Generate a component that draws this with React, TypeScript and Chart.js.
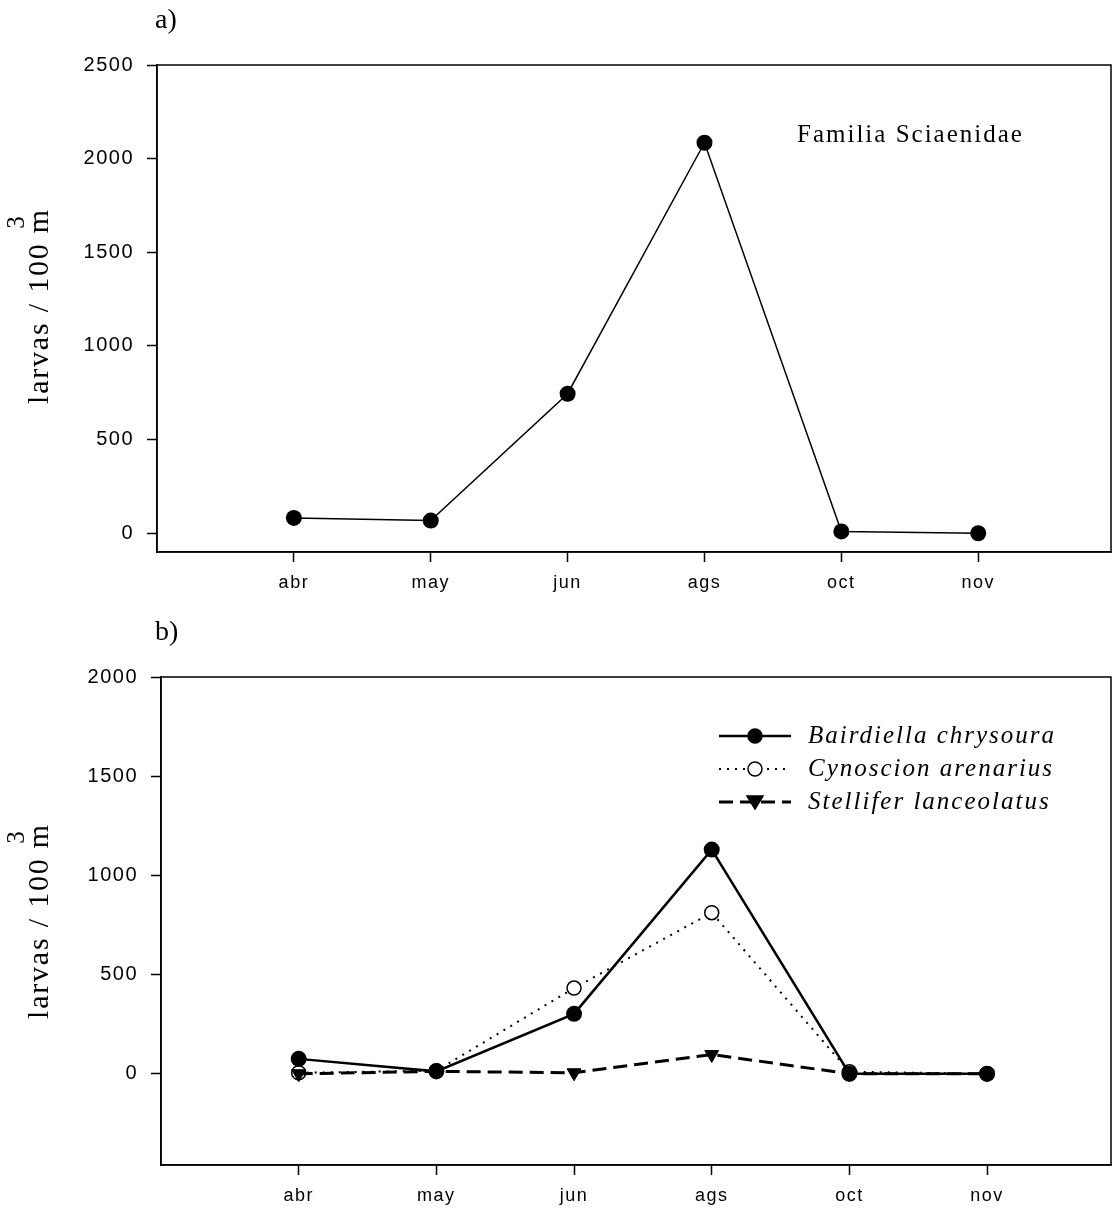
import React, { useEffect, useRef } from 'react';
import { Chart, registerables } from 'chart.js';
Chart.register(...registerables);

const months = ['abr', 'may', 'jun', 'ags', 'oct', 'nov'];
const sciaenidae = [82, 68, 745, 2085, 10, 0];
const bairdiella = [75, 12, 302, 1130, 0, 0];
const cynoscion = [5, 15, 432, 812, 10, 0];
const stellifer = [0, 12, 5, 97, 0, 0];
const ticksA = [0, 500, 1000, 1500, 2000, 2500];
const ticksB = [0, 500, 1000, 1500, 2000];
const legendNames = ['Bairdiella chrysoura', 'Cynoscion arenarius', 'Stellifer lanceolatus'];

const W = 1113;
const HA = 600;
const HB = 609;

const SANS = '"Liberation Sans", Arial, sans-serif';
const SERIF = '"Liberation Serif", "Times New Roman", serif';

function pts(arr: number[]) {
  return arr.map((v, i) => ({ x: i, y: v }));
}

function drawYLabel(ctx: CanvasRenderingContext2D, cx: number, cy: number) {
  ctx.save();
  ctx.translate(cx, cy);
  ctx.rotate(-Math.PI / 2);
  ctx.fillStyle = '#000';
  ctx.font = `30px ${SERIF}`;
  (ctx as any).letterSpacing = '1.8px';
  const main = 'larvas / 100 m';
  const w = ctx.measureText(main).width;
  const mw = ctx.measureText('m').width;
  ctx.textBaseline = 'middle';
  ctx.textAlign = 'left';
  ctx.fillText(main, -w / 2, 0);
  ctx.font = `25px ${SERIF}`;
  ctx.textAlign = 'center';
  ctx.fillText('3', w / 2 - mw / 2 - 1, -23);
  ctx.restore();
}

function makeScales(xMax: number, yMin: number, yMax: number, yTicks: number[], yW: number, xH: number) {
  const gridCommon = {
    display: true,
    drawOnChartArea: false,
    drawTicks: true,
    tickLength: 10,
    tickColor: '#000',
    tickWidth: 1.5,
  };
  return {
    x: {
      type: 'linear' as const,
      min: -1,
      max: xMax,
      afterBuildTicks: (s: any) => {
        s.ticks = months.map((_, i) => ({ value: i }));
      },
      afterFit: (s: any) => {
        s.height = xH;
        s.paddingLeft = 0;
        s.paddingRight = 0;
      },
      grid: gridCommon,
      border: { display: true, color: '#000', width: 1.5 },
      ticks: {
        color: '#000',
        font: { family: SANS, size: 18 },
        padding: 10,
        maxRotation: 0,
        autoSkip: false,
        callback: (v: any) => months[v] ?? '',
      },
    },
    y: {
      type: 'linear' as const,
      min: yMin,
      max: yMax,
      afterBuildTicks: (s: any) => {
        s.ticks = yTicks.map((v) => ({ value: v }));
      },
      afterFit: (s: any) => {
        s.width = yW;
        s.paddingTop = 0;
        s.paddingBottom = 0;
      },
      grid: gridCommon,
      border: { display: true, color: '#000', width: 1.5 },
      ticks: {
        color: '#000',
        font: { family: SANS, size: 20 },
        padding: 13,
        autoSkip: false,
        callback: (v: any) => String(v),
      },
    },
  };
}

const boxPlugin = {
  id: 'boxFrame',
  beforeDatasetsDraw(chart: any) {
    const { ctx, chartArea: a } = chart;
    ctx.save();
    ctx.strokeStyle = '#000';
    ctx.lineWidth = 1.5;
    ctx.strokeRect(a.left, a.top, a.right - a.left, a.bottom - a.top);
    ctx.restore();
  },
};

const spacingPlugin = {
  id: 'spacing',
  beforeDraw(chart: any) {
    (chart.ctx as any).letterSpacing = '1.5px';
  },
};

export default function App() {
  const refA = useRef<HTMLCanvasElement>(null);
  const refB = useRef<HTMLCanvasElement>(null);

  useEffect(() => {
    const annotA = {
      id: 'annotA',
      afterDraw(chart: any) {
        const ctx = chart.ctx as CanvasRenderingContext2D;
        ctx.save();
        (ctx as any).letterSpacing = '0px';
        ctx.fillStyle = '#000';
        ctx.font = `28px ${SERIF}`;
        ctx.textBaseline = 'middle';
        ctx.textAlign = 'left';
        ctx.fillText('a)', 155, 21);
        ctx.font = `25px ${SERIF}`;
        (ctx as any).letterSpacing = '2px';
        ctx.fillText('Familia Sciaenidae', 797, 135);
        ctx.restore();
        drawYLabel(ctx, 40, 306);
      },
    };
    const annotB = {
      id: 'annotB',
      afterDraw(chart: any) {
        const ctx = chart.ctx as CanvasRenderingContext2D;
        ctx.save();
        (ctx as any).letterSpacing = '0px';
        ctx.fillStyle = '#000';
        ctx.font = `28px ${SERIF}`;
        ctx.textBaseline = 'middle';
        ctx.textAlign = 'left';
        ctx.fillText('b)', 155, 33);
        // legend
        const rows = [136, 169, 202];
        const styles = [
          { dash: [] as number[], lw: 2.5, type: 'circle', fill: '#000' },
          { dash: [2, 6], lw: 2, type: 'circle', fill: '#fff' },
          { dash: [14, 7], lw: 3, type: 'triangle', fill: '#000' },
        ];
        rows.forEach((y, i) => {
          const st = styles[i];
          ctx.save();
          ctx.strokeStyle = '#000';
          ctx.lineWidth = st.lw;
          ctx.setLineDash(st.dash);
          ctx.beginPath();
          ctx.moveTo(719, y);
          ctx.lineTo(791, y);
          ctx.stroke();
          ctx.setLineDash([]);
          ctx.lineWidth = 1.5;
          ctx.fillStyle = st.fill;
          ctx.beginPath();
          if (st.type === 'circle') {
            ctx.arc(755, y, 7, 0, Math.PI * 2);
          } else {
            ctx.moveTo(747, y - 6);
            ctx.lineTo(763, y - 6);
            ctx.lineTo(755, y + 7);
            ctx.closePath();
          }
          ctx.fill();
          ctx.stroke();
          ctx.restore();
          ctx.fillStyle = '#000';
          ctx.font = `italic 25px ${SERIF}`;
          (ctx as any).letterSpacing = '2px';
          ctx.fillText(legendNames[i], 808, y);
        });
        ctx.restore();
        drawYLabel(ctx, 40, 321);
      },
    };

    const chartA = new Chart(refA.current!, {
      type: 'line',
      data: {
        datasets: [
          {
            label: 'Familia Sciaenidae',
            data: pts(sciaenidae),
            borderColor: '#000',
            borderWidth: 1.5,
            backgroundColor: '#000',
            pointBackgroundColor: '#000',
            pointBorderColor: '#000',
            pointRadius: 8,
            pointBorderWidth: 0,
            tension: 0,
          },
        ],
      },
      options: {
        responsive: false,
        animation: false,
        layout: { autoPadding: false, padding: { top: 65, right: 2, left: 0, bottom: 0 } },
        plugins: { legend: { display: false }, tooltip: { enabled: false } },
        scales: makeScales(5.97, -100, 2500, ticksA, 157, 48) as any,
      },
      plugins: [spacingPlugin, boxPlugin, annotA],
    });

    const chartB = new Chart(refB.current!, {
      type: 'line',
      data: {
        datasets: [
          {
            label: legendNames[0],
            data: pts(bairdiella),
            borderColor: '#000',
            borderWidth: 2.5,
            backgroundColor: '#000',
            pointBackgroundColor: '#000',
            pointBorderColor: '#000',
            pointRadius: 8,
            pointBorderWidth: 0,
            tension: 0,
          },
          {
            label: legendNames[2],
            data: pts(stellifer),
            borderColor: '#000',
            borderWidth: 3,
            borderDash: [14, 7],
            backgroundColor: '#000',
            pointStyle: 'triangle',
            rotation: 180,
            pointBackgroundColor: '#000',
            pointBorderColor: '#000',
            pointRadius: 8,
            pointBorderWidth: 1,
            tension: 0,
          },
          {
            label: legendNames[1],
            data: pts(cynoscion),
            borderColor: '#000',
            borderWidth: 2,
            borderDash: [2, 6],
            backgroundColor: '#fff',
            pointBackgroundColor: '#fff',
            pointBorderColor: '#000',
            pointRadius: 7,
            pointBorderWidth: 1.5,
            tension: 0,
          },
        ],
      },
      options: {
        responsive: false,
        animation: false,
        layout: { autoPadding: false, padding: { top: 77, right: 2, left: 0, bottom: 0 } },
        plugins: { legend: { display: false }, tooltip: { enabled: false } },
        scales: makeScales(5.9, -460, 2000, ticksB, 161, 44) as any,
      },
      plugins: [spacingPlugin, boxPlugin, annotB],
    });

    return () => {
      chartA.destroy();
      chartB.destroy();
    };
  }, []);

  return (
    <div style={{ position: 'absolute', left: 0, top: 0, width: W, height: HA + HB, background: '#fff' }}>
      <canvas ref={refA} width={W} height={HA} style={{ display: 'block', width: W, height: HA }} />
      <canvas ref={refB} width={W} height={HB} style={{ display: 'block', width: W, height: HB }} />
    </div>
  );
}
